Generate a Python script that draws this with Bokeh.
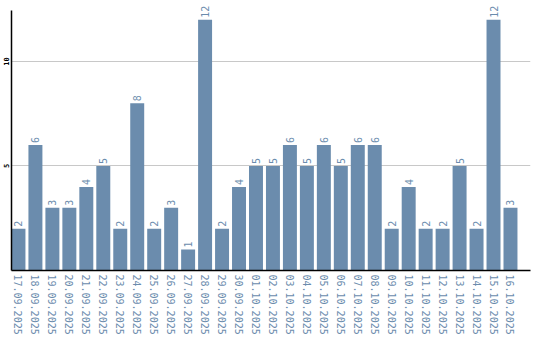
import math
from bokeh.plotting import figure
from bokeh.models import Range1d, FixedTicker, ColumnDataSource
from bokeh.core.properties import value
from bokeh.embed import file_html
from bokeh.resources import INLINE

dates = ["17.09.2025", "18.09.2025", "19.09.2025", "20.09.2025", "21.09.2025",
         "22.09.2025", "23.09.2025", "24.09.2025", "25.09.2025", "26.09.2025",
         "27.09.2025", "28.09.2025", "29.09.2025", "30.09.2025", "01.10.2025",
         "02.10.2025", "03.10.2025", "04.10.2025", "05.10.2025", "06.10.2025",
         "07.10.2025", "08.10.2025", "09.10.2025", "10.10.2025", "11.10.2025",
         "12.10.2025", "13.10.2025", "14.10.2025", "15.10.2025", "16.10.2025"]
counts = [2, 6, 3, 3, 4, 5, 2, 8, 2, 3, 1, 12, 2, 4, 5, 5, 6, 5, 6, 5,
          6, 6, 2, 4, 2, 2, 5, 2, 12, 3]
y_ticks = [5, 10]

BAR = "#6b8cad"
TXT = "#6b8cad"

xs = list(range(len(dates)))
src = ColumnDataSource(dict(x=xs, top=counts, label=[str(c) for c in counts]))

p = figure(width=540, height=340, output_backend="svg", toolbar_location=None,
           x_range=Range1d(-0.41, 30.18), y_range=Range1d(0, 12.727),
           min_border_left=10, min_border_top=4, min_border_right=10,
           min_border_bottom=70)
p.outline_line_color = None
p.background_fill_color = "white"
p.border_fill_color = "white"

p.vbar(x="x", top="top", width=0.8235, bottom=0, source=src,
       fill_color=BAR, line_color=None)

p.text(x="x", y="top", text="label", source=src, angle=math.pi / 2,
       text_align="left", text_baseline="middle", y_offset=-2,
       text_font=value("DejaVu Sans Mono"), text_font_size="10px",
       text_color=TXT)

# x axis
p.xaxis.ticker = FixedTicker(ticks=xs)
p.xaxis.major_label_overrides = {i: d for i, d in enumerate(dates)}
p.xaxis.major_label_orientation = "vertical"
p.xaxis.major_label_text_font = "DejaVu Sans Mono"
p.xaxis.major_label_text_font_size = "10px"
p.xaxis.major_label_text_color = TXT
p.xaxis.major_label_standoff = 4
p.xaxis.major_tick_out = 0
p.xaxis.major_tick_in = 0
p.xaxis.minor_tick_out = 0
p.xaxis.minor_tick_in = 0
p.xaxis.axis_line_color = "black"
p.xaxis.axis_line_width = 1.5

# y axis
p.yaxis.ticker = FixedTicker(ticks=y_ticks)
p.yaxis.bounds = (0, 12.44)
p.yaxis.major_label_orientation = "vertical"
p.yaxis.major_label_text_font = "DejaVu Sans Mono"
p.yaxis.major_label_text_font_size = "7px"
p.yaxis.major_label_text_font_style = "bold"
p.yaxis.major_label_text_color = "black"
p.yaxis.major_label_standoff = 2
p.yaxis.major_tick_out = 0
p.yaxis.major_tick_in = 0
p.yaxis.minor_tick_out = 0
p.yaxis.minor_tick_in = 0
p.yaxis.axis_line_color = "black"
p.yaxis.axis_line_width = 1.5

p.xgrid.grid_line_color = None
p.ygrid.ticker = FixedTicker(ticks=y_ticks)
p.ygrid.grid_line_color = "#c8c8c8"
p.ygrid.grid_line_width = 1

open("out.html", "w").write(file_html(p, INLINE))
